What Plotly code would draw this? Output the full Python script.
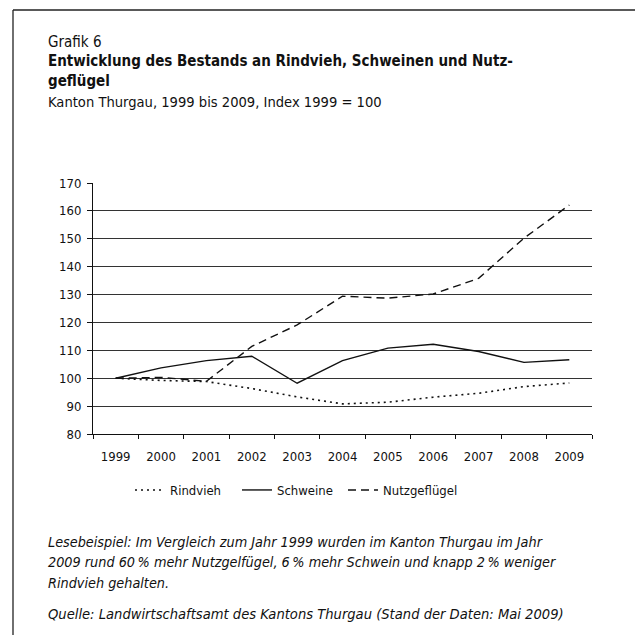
import plotly.graph_objects as go

years = ["1999", "2000", "2001", "2002", "2003", "2004", "2005", "2006", "2007", "2008", "2009"]
rindvieh = [100, 99.2, 98.8, 96.3, 93.3, 90.8, 91.4, 93.2, 94.6, 97.0, 98.3]
schweine = [100, 103.7, 106.3, 107.9, 98.2, 106.3, 110.8, 112.2, 109.6, 105.7, 106.6]
nutzgefluegel = [100, 100.3, 98.9, 111.4, 119.1, 129.4, 128.7, 130.2, 135.8, 150.2, 162.1]
y_ticks = [80, 90, 100, 110, 120, 130, 140, 150, 160, 170]

W = H = 635
L, R, T, B = 93, 43, 183, 201
PW = W - L - R
PH = H - T - B

def px(x):
    return (x - L) / PW

def py(y):
    return (H - B - y) / PH

FONT = "DejaVu Sans Condensed, sans-serif"

fig = go.Figure()
fig.add_trace(go.Scatter(x=years, y=rindvieh, mode="lines", name="Rindvieh", legend="legend",
                         line=dict(color="#111", width=1.6, dash="2px,4px")))
fig.add_trace(go.Scatter(x=years, y=schweine, mode="lines", name="Schweine", legend="legend2",
                         line=dict(color="#111", width=1.4, dash="solid")))
fig.add_trace(go.Scatter(x=years, y=nutzgefluegel, mode="lines", name="Nutzgeflügel", legend="legend3",
                         line=dict(color="#111", width=1.4, dash="8px,5px")))

annotations = [
    dict(text="Grafik 6", x=px(46), y=py(42), size=15),
    dict(text="<b>Entwicklung des Bestands an Rindvieh, Schweinen und Nutz-</b>", x=px(46), y=py(61), size=15),
    dict(text="<b>geflügel</b>", x=px(46), y=py(81), size=15),
    dict(text="Kanton Thurgau, 1999 bis 2009, Index 1999 = 100", x=px(46), y=py(101), size=14.6),
    dict(text="<i>Lesebeispiel: Im Vergleich zum Jahr 1999 wurden im Kanton Thurgau im Jahr</i>", x=px(46), y=py(542), size=14.3),
    dict(text="<i>2009 rund 60\u202f% mehr Nutzgelfügel, 6\u202f% mehr Schwein und knapp 2\u202f% weniger</i>", x=px(46), y=py(562), size=14.3),
    dict(text="<i>Rindvieh gehalten.</i>", x=px(46), y=py(583), size=14.3),
    dict(text="<i>Quelle: Landwirtschaftsamt des Kantons Thurgau (Stand der Daten: Mai 2009)</i>", x=px(46), y=py(613), size=14.6),
]
ann_objs = []
for a in annotations:
    ann_objs.append(dict(text=a["text"], x=a["x"], y=a["y"], xref="paper", yref="paper",
                         xanchor="left", yanchor="middle", showarrow=False,
                         font=dict(family=FONT, size=a["size"], color="#111")))

shapes = [
    dict(type="line", xref="paper", yref="paper", x0=px(13), x1=px(640), y0=py(10), y1=py(10),
         line=dict(color="#222", width=1.3)),
    dict(type="line", xref="paper", yref="paper", x0=px(13), x1=px(13), y0=py(10), y1=py(640),
         line=dict(color="#222", width=1.3)),
]

def leg(xpix):
    return dict(orientation="h", x=px(xpix), y=py(490), xanchor="left", yanchor="middle",
                font=dict(family=FONT, size=13, color="#111"), bgcolor="rgba(0,0,0,0)")

fig.update_layout(
    width=W, height=H,
    margin=dict(l=L, r=R, t=T, b=B),
    paper_bgcolor="white", plot_bgcolor="white",
    font=dict(family=FONT, size=13, color="#111"),
    showlegend=True,
    legend=leg(130),
    legend2=leg(237),
    legend3=leg(343),
    annotations=ann_objs,
    shapes=shapes,
    xaxis=dict(type="category", tickson="boundaries", ticks="outside", ticklen=4,
               tickcolor="#111", showline=True, linecolor="#111", linewidth=1,
               showgrid=False, tickfont=dict(family=FONT, size=13, color="#111"),
               ticklabelstandoff=10, range=[-0.5, 10.5], fixedrange=True),
    yaxis=dict(range=[80, 170], tickvals=y_ticks, ticks="outside", ticklen=5,
               tickcolor="#111", showline=True, linecolor="#111", linewidth=1,
               showgrid=True, gridcolor="#333", gridwidth=1, zeroline=False,
               ticklabelstandoff=3,
               tickfont=dict(family=FONT, size=13, color="#111"), fixedrange=True),
)

fig.write_html("out.html")
